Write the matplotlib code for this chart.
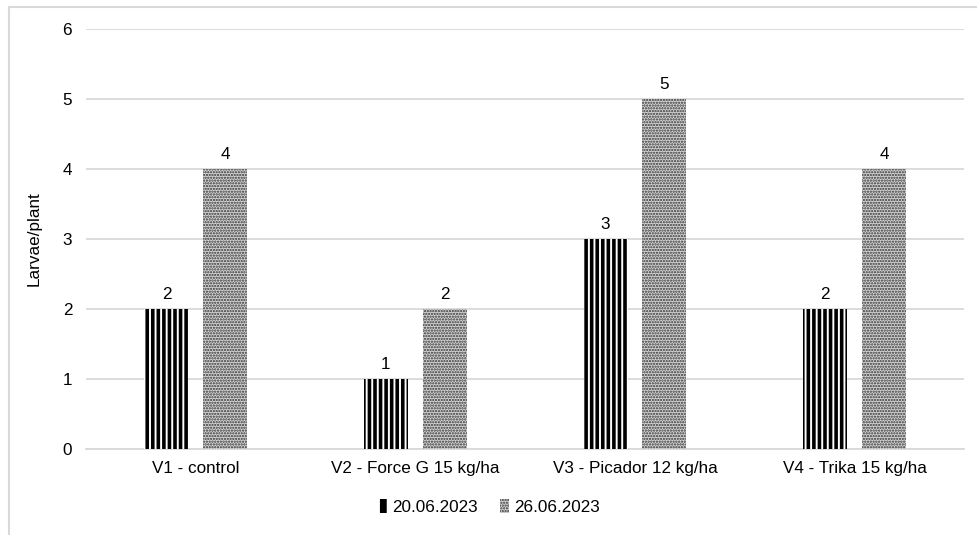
import matplotlib
matplotlib.use("Agg")
import matplotlib.pyplot as plt
import numpy as np
from matplotlib.lines import Line2D
from matplotlib.patches import Patch

plt.rcParams['font.family'] = ['Liberation Sans', 'DejaVu Sans']

categories = ["V1 - control", "V2 - Force G 15 kg/ha", "V3 - Picador 12 kg/ha", "V4 - Trika 15 kg/ha"]
series_names = ["20.06.2023", "26.06.2023"]
values_1 = [2, 1, 3, 2]
values_2 = [4, 2, 5, 4]
y_ticks = [0, 1, 2, 3, 4, 5, 6]

FS = 12.3

fig = plt.figure(figsize=(9.78, 5.35), dpi=100)
ax = fig.add_axes([0.088, 0.161, 0.898, 0.785])

x = np.arange(len(categories))
w = 0.2
off = 0.134

plt.rcParams['hatch.linewidth'] = 2.6
b1 = ax.bar(x - off, values_1, w, facecolor='white', edgecolor='black', hatch='|||', linewidth=0, zorder=3)
plt.rcParams['hatch.linewidth'] = 1.1
b2 = ax.bar(x + off, values_2, w, facecolor='#d4d4d4', edgecolor='#333333', hatch='......', linewidth=0, zorder=3)

for bars, vals in ((b1, values_1), (b2, values_2)):
    for r, v in zip(bars, vals):
        ax.text(r.get_x() + r.get_width() / 2, v + 0.1, str(v), ha='center', va='bottom',
                fontsize=FS, color='#000000')

ax.set_xlim(-0.5, len(categories) - 0.5)
ax.set_ylim(0, 6)
ax.set_yticks(y_ticks)
ax.set_xticks(x)
ax.set_xticklabels(categories, fontsize=FS)
ax.tick_params(axis='y', labelsize=FS, length=0, pad=10)
ax.tick_params(axis='x', length=0, pad=9)
ax.grid(axis='y', color='#d9d9d9', linewidth=1.3, zorder=0)
ax.set_axisbelow(True)
for s in ['top', 'right', 'left']:
    ax.spines[s].set_visible(False)
ax.spines['bottom'].set_color('#d9d9d9')
ax.spines['bottom'].set_linewidth(1.3)
ax.set_ylabel("Larvae/plant", fontsize=FS, labelpad=15)

# outer chart border (left and top)
fig.add_artist(Line2D([0.009, 0.009], [0.0, 0.987], transform=fig.transFigure, color='#d9d9d9', linewidth=1.5))
fig.add_artist(Line2D([0.009, 1.0], [0.987, 0.987], transform=fig.transFigure, color='#d9d9d9', linewidth=1.5))

plt.rcParams['hatch.linewidth'] = 1.3
h1 = Patch(facecolor='black', edgecolor='white', hatch='||', linewidth=0)
plt.rcParams['hatch.linewidth'] = 1.1
h2 = Patch(facecolor='#d4d4d4', edgecolor='#333333', hatch='......', linewidth=0)
fig.legend([h1, h2], series_names, loc='center', bbox_to_anchor=(0.5, 0.052), ncol=2, frameon=False,
           fontsize=FS, handlelength=0.55, handleheight=0.8, handletextpad=0.25, columnspacing=1.3)

fig.savefig("out.png", dpi=100)
